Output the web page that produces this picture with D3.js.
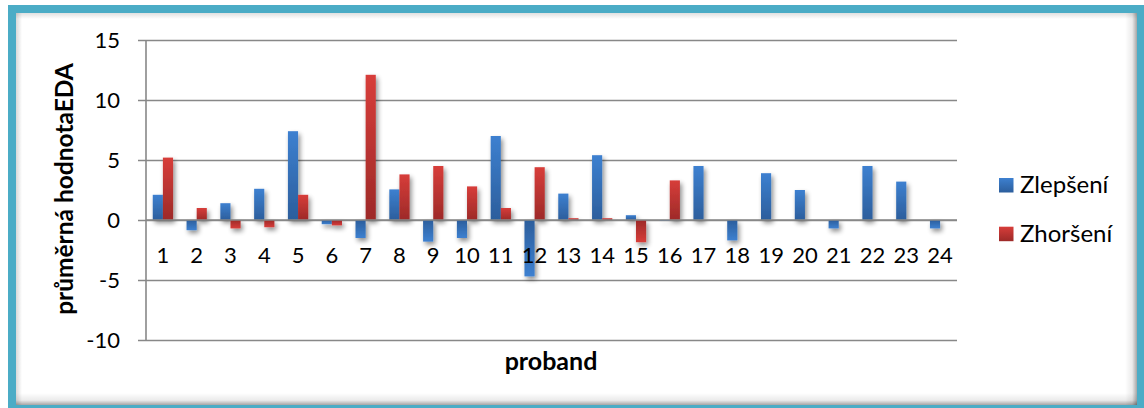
<!DOCTYPE html>
<html><head><meta charset="utf-8">
<script src="https://cdn.jsdelivr.net/npm/d3@7"></script>
<style>
html,body{margin:0;padding:0;background:#fff;}
svg{display:block;}
text{font-family:Lato,"Open Sans",sans-serif;fill:#000;}
</style></head>
<body>
<svg id="c" width="1144" height="408"></svg>
<script>
const categories = ["1","2","3","4","5","6","7","8","9","10","11","12","13","14","15","16","17","18","19","20","21","22","23","24"];
const zlepseni = [2.1,-0.85,1.4,2.6,7.4,-0.35,-1.5,2.55,-1.8,-1.5,7.0,-4.7,2.2,5.4,0.4,-0.05,4.5,-1.7,3.9,2.5,-0.7,4.5,3.2,-0.7];
const zhorseni = [5.2,1.0,-0.7,-0.6,2.1,-0.45,12.1,3.8,4.5,2.8,1.0,4.4,0.15,0.15,-1.85,3.3,0,0,0,0,0,0,0,0];
const seriesNames = ["Zlepšení","Zhoršení"];
const yTicks = [-10,-5,0,5,10,15];

const svg = d3.select("#c");
const defs = svg.append("defs");

// frame
svg.append("rect").attr("x",8).attr("y",5).attr("width",1136).attr("height",403).attr("fill","#4bacc6");
svg.append("rect").attr("x",16).attr("y",13).attr("width",1121).attr("height",392).attr("fill","#ffffff");
function lg(id, x1,y1,x2,y2, stops){
  const g = defs.append("linearGradient").attr("id",id).attr("x1",x1).attr("y1",y1).attr("x2",x2).attr("y2",y2);
  stops.forEach(s=>g.append("stop").attr("offset",s[0]).attr("stop-color",s[1]).attr("stop-opacity",s[2]));
}
lg("shR","0","0","1","0",[[0,"#000",0],[0.6,"#000",0.08],[1,"#000",0.35]]);
lg("shB","0","0","0","1",[[0,"#000",0],[0.6,"#000",0.08],[1,"#000",0.35]]);
lg("shT","0","1","0","0",[[0,"#000",0],[1,"#000",0.12]]);
lg("shL","1","0","0","0",[[0,"#000",0],[1,"#000",0.15]]);
svg.append("rect").attr("x",1125).attr("y",13).attr("width",12).attr("height",392).attr("fill","url(#shR)");
svg.append("rect").attr("x",16).attr("y",393).attr("width",1121).attr("height",12).attr("fill","url(#shB)");
svg.append("rect").attr("x",16).attr("y",13).attr("width",1121).attr("height",6).attr("fill","url(#shT)");
svg.append("rect").attr("x",16).attr("y",13).attr("width",6).attr("height",392).attr("fill","url(#shL)");

lg("gBlue","0","0","0","1",[[0,"#3d80d0",1],[1,"#2c5e9c",1]]);
lg("gRed","0","0","0","1",[[0,"#d73d3a",1],[1,"#9d2a28",1]]);
lg("gBlueN","0","1","0","0",[[0,"#3d80d0",1],[1,"#2c5e9c",1]]);
lg("gRedN","0","1","0","0",[[0,"#d73d3a",1],[1,"#9d2a28",1]]);
const f = defs.append("filter").attr("id","sh").attr("x","-50%").attr("y","-20%").attr("width","200%").attr("height","140%");
f.append("feGaussianBlur").attr("in","SourceAlpha").attr("stdDeviation",2.5).attr("result","b");
f.append("feOffset").attr("in","b").attr("dx",1.5).attr("dy",2.5).attr("result","o");
f.append("feComponentTransfer").attr("in","o").attr("result","oa").append("feFuncA").attr("type","linear").attr("slope",0.45);
const fm = f.append("feMerge"); fm.append("feMergeNode").attr("in","oa"); fm.append("feMergeNode").attr("in","SourceGraphic");

const x0 = 146, x1 = 957, yTop = 40, yBot = 340;
const x = d3.scaleBand().domain(categories).range([x0,x1]).paddingInner(0.4).paddingOuter(0.2);
const xs = d3.scaleBand().domain(seriesNames).range([0,x.bandwidth()]);
const y = d3.scaleLinear().domain([-10,15]).range([yBot,yTop]);

const yAxis = d3.axisLeft(y).tickValues(yTicks).tickSize(-(x1-x0)).tickSizeOuter(0).tickPadding(26).tickFormat(d => String(d));
const ga = svg.append("g").attr("transform",`translate(${x0},0)`).call(yAxis);
ga.select(".domain").remove();
ga.selectAll(".tick line").attr("x1",-8).attr("stroke","#888").attr("stroke-width",1.6);
ga.selectAll(".tick text").attr("font-size",22).attr("fill","#000").style("font-family","Lato");
svg.append("line").attr("x1",x0).attr("x2",x0).attr("y1",yTop).attr("y2",yBot).attr("stroke","#888").attr("stroke-width",1.6);

const data = categories.map((c,i)=>({c, vals:[{s:seriesNames[0],v:zlepseni[i]},{s:seriesNames[1],v:zhorseni[i]}]}));
const fills = {"Zlepšení":["url(#gBlue)","url(#gBlueN)"],"Zhoršení":["url(#gRed)","url(#gRedN)"]};
const gb = svg.append("g").attr("filter","url(#sh)");
data.forEach(d=>{
  d.vals.forEach(v=>{
    if(v.v===0) return;
    gb.append("rect")
      .attr("x",x(d.c)+xs(v.s))
      .attr("width",xs.bandwidth())
      .attr("y",y(Math.max(0,v.v)))
      .attr("height",Math.abs(y(v.v)-y(0)))
      .attr("fill",fills[v.s][v.v>0?0:1]);
  });
});
svg.append("line").attr("x1",x0).attr("x2",x1).attr("y1",y(0)).attr("y2",y(0)).attr("stroke","#888").attr("stroke-width",1.6);

const xAxis = d3.axisBottom(x).tickSize(0).tickPadding(0);
const gx = svg.append("g").attr("transform",`translate(0,${y(0)})`).call(xAxis);
gx.select(".domain").remove();
gx.selectAll(".tick text").attr("y",43).attr("dy",0).attr("font-size",22).attr("fill","#000").style("font-family","Lato");

svg.append("text").attr("x",551).attr("y",370).attr("text-anchor","middle").attr("font-size",25).attr("font-weight","bold").text("proband");
svg.append("text").attr("transform","translate(73,189) rotate(-90)").attr("text-anchor","middle").attr("font-size",24.5).attr("font-weight","bold").text("průměrná hodnotaEDA");

const lgG = svg.append("g");
seriesNames.forEach((s,i)=>{
  lgG.append("rect").attr("x",999).attr("y",178+i*48.7).attr("width",14.5).attr("height",14.5).attr("fill",fills[s][0]);
  lgG.append("text").attr("x",1020).attr("y",193+i*48.7).attr("font-size",24).text(s);
});
</script>
</body></html>
